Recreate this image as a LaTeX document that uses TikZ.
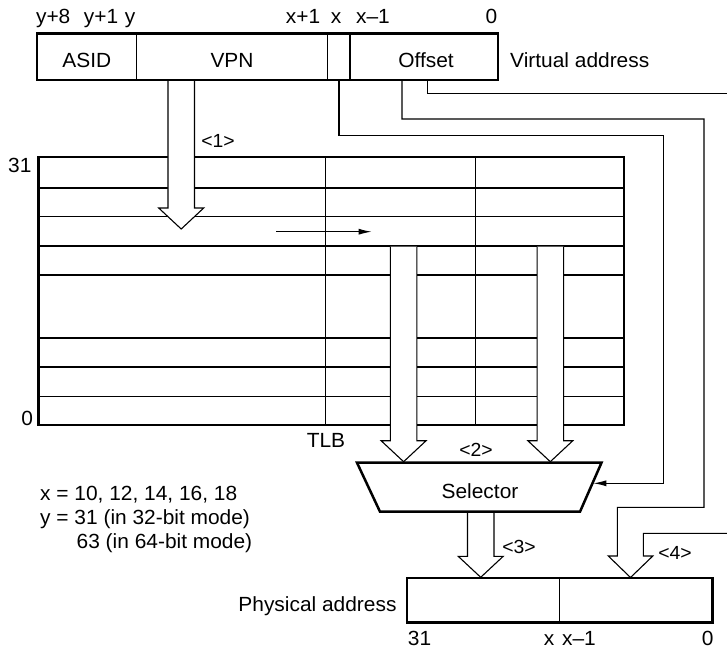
\documentclass[tikz,border=0pt]{standalone}
\usepackage{fontspec}
\setmainfont{Liberation Sans}[FakeStretch=1.02]
\usetikzlibrary{arrows.meta,calc}
\tikzset{
  thickln/.style={line width=2.5pt},
  thinln/.style={line width=1.1pt},
  lbl/.style={anchor=base, inner sep=0pt, font=\fontsize{20.5}{24}\selectfont},
  tag/.style={anchor=base, inner sep=0pt, font=\fontsize{19}{22}\selectfont},
  blk/.style={fill=white, draw, line width=1.1pt, line join=miter},
  wire/.style={line width=1.1pt, line join=miter},
  tiparrow/.style={-{Latex[length=13pt,width=6pt]}},
  box/.style={draw, line width=2.5pt, inner sep=0pt},
}
\newcommand\blkarrow[2]{\path[blk] let \p1=(#1), \p2=(#2) in
  (\x2-13.25pt,\y1) -- (\x2-13.25pt,\y2+21pt) -- (\x2-22.5pt,\y2+21pt) -- (\p2)
  -- (\x2+22.5pt,\y2+21pt) -- (\x2+13.25pt,\y2+21pt) -- (\x2+13.25pt,\y1);}
\begin{document}
\begin{tikzpicture}[x=1pt,y=-1pt]
\useasboundingbox (0,0) rectangle (727,650);

% ---- TLB table
\foreach \yy in {188,216.5,246,275,338,367,396.5}
  \draw[thinln] (38.3,\yy) -- (624,\yy);
\foreach \xx in {325.7,475.7}
  \draw[thinln] (\xx,157) -- (\xx,425);
\node[box, minimum width=585.7pt, minimum height=268pt] (tlb) at (331.15,291) {};
\node[lbl, anchor=base east] (t31) at (31.7,172.3) {31};
\node[lbl, anchor=base east] (t0) at (33.3,425) {0};
\node[lbl] (tlbname) at (326,447) {TLB};

% horizontal arrow in the TLB
\coordinate (hS) at (276,231.7);
\coordinate (hE) at (371.7,231.7);
\draw[thinln, tiparrow] (hS) -- (hE);

% ---- block arrows
\coordinate (vpnS) at (181.3,80);
\coordinate (vpnT) at (181.2,229);
\blkarrow{vpnS}{vpnT}
\coordinate (d1S) at (403.6,246.5);
\coordinate (d1T) at (403.6,461.7);
\blkarrow{d1S}{d1T}
\coordinate (d2S) at (550.3,246.5);
\coordinate (d2T) at (550.3,461.7);
\blkarrow{d2S}{d2T}
\coordinate (d3S) at (480.7,511.7);
\coordinate (d3T) at (480.7,577.3);
\blkarrow{d3S}{d3T}

% ---- virtual address
\node[box, minimum width=461pt, minimum height=46.5pt] (va) at (267.5,56.75) {};
\draw[thinln] (136.8,33.5) -- (136.8,80);
\draw[thinln] (327.3,33.5) -- (327.3,80);
\draw[thinln] (350,33.5) -- (350,80);
\node[lbl] (asid) at (86.9,67.5) {ASID};
\node[lbl] (vpn) at (232,67.5) {VPN};
\node[lbl] (off) at (426,67.5) {Offset};
\node[lbl, anchor=base west] (vaname) at (510,67.5) {Virtual address};
\node[lbl] (b1) at (53.2,24) {y+8};
\node[lbl] (b2) at (101,24) {y+1};
\node[lbl] (b3) at (130,24) {y};
\node[lbl] (b4) at (303,24) {x+1};
\node[lbl] (b5) at (336,24) {x};
\node[lbl] (b6) at (373,24) {x–1};
\node[lbl] (b7) at (491.4,24) {0};
\node[tag] (n1) at (218,147.5) {<1>};

% ---- selector
\coordinate (selTL) at (357,462.7);
\coordinate (selTR) at (601.5,462.7);
\coordinate (selBR) at (580,511.7);
\coordinate (selBL) at (380,511.7);
\draw[thickln, line join=miter] (selTL) -- (selTR) -- (selBR) -- (selBL) -- cycle;
\node[lbl] (sel) at (480,498) {Selector};
\node[tag] (n2) at (476,456) {<2>};
\node[tag] (n3) at (519,553) {<3>};
\node[tag] (n4) at (675,559.5) {<4>};

% ---- wires from the virtual address
\coordinate (w1a) at (339,80);
\coordinate (w1b) at (339,135.7);
\coordinate (w1c) at (663.3,135.7);
\coordinate (w1d) at (663.3,483.3);
\coordinate (selR) at (593.3,483.3);
\draw[wire, tiparrow] (w1a) -- (w1b) -- (w1c) -- (w1d) -- (selR);

\coordinate (w2a) at (402,80);
\coordinate (w2b) at (402,119);
\coordinate (w2c) at (704,119);
\coordinate (w2d) at (704,507.3);
\coordinate (w2e) at (617.3,507.3);
\coordinate (w2f) at (617.3,556);
\coordinate (h4l) at (608.3,556);
\coordinate (h4t) at (630.5,577.5);
\coordinate (h4r) at (652.8,556);
\coordinate (w3f) at (643.3,556);
\coordinate (w3e) at (643.3,533.3);
\coordinate (w3d) at (727,533.3);
\draw[wire] (w2a) -- (w2b) -- (w2c) -- (w2d) -- (w2e) -- (w2f) -- (h4l) -- (h4t)
  -- (h4r) -- (w3f) -- (w3e) -- (w3d);

\coordinate (w3a) at (427.5,80);
\coordinate (w3b) at (427.5,93.3);
\coordinate (w3c) at (727,93.3);
\draw[wire] (w3a) -- (w3b) -- (w3c);

% ---- physical address
\node[box, minimum width=305.3pt, minimum height=44.7pt] (pa) at (559.65,600.35) {};
\draw[thinln] (pa.north) -- (pa.south);
\node[lbl, anchor=base east] (paname) at (396.7,611) {Physical address};
\node[lbl] (p1) at (419.5,645) {31};
\node[lbl] (p2) at (549,645) {x};
\node[lbl] (p3) at (579,645) {x–1};
\node[lbl] (p4) at (707.7,645) {0};

% ---- notes
\node[lbl, anchor=base west] (note1) at (40,500) {x = 10, 12, 14, 16, 18};
\node[lbl, anchor=base west] (note2) at (40,524) {y = 31 (in 32-bit mode)};
\node[lbl, anchor=base west] (note3) at (76.5,548) {63 (in 64-bit mode)};
\end{tikzpicture}
\end{document}
